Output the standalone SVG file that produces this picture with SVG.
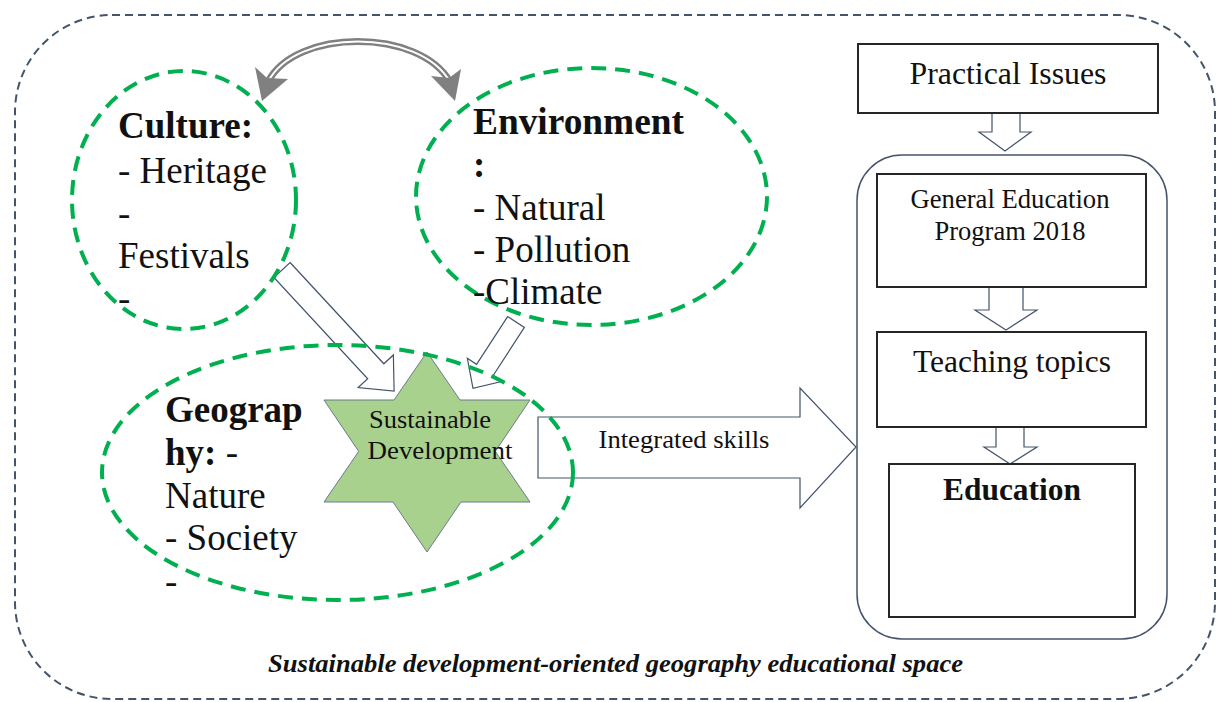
<svg xmlns="http://www.w3.org/2000/svg" width="1219" height="702" viewBox="0 0 1219 702">
  <style>
    .serif { font-family: "Liberation Serif", "Times New Roman", serif; fill: #111; }
    .b { font-weight: bold; }
    .big { font-size: 37px; }
    .zone { fill: none; stroke: #00b050; stroke-width: 4; stroke-dasharray: 15 9; }
    .blk { fill: #fff; stroke: #44546a; stroke-width: 1.2; stroke-linejoin: miter; }
    .box { fill: #fff; stroke: #262626; stroke-width: 2; }
  </style>

  <!-- outer space boundary -->
  <rect x="15" y="15" width="1200" height="684" rx="97" ry="97" fill="none" stroke="#44546a" stroke-width="2" stroke-dasharray="8 5"/>

  <g id="connectors">
    <!-- two-way link between culture and environment -->
    <path d="M268 82 C295 28, 420 28, 450 82" fill="none" stroke="#808080" stroke-width="7"/>
    <path d="M268 82 C295 28, 420 28, 450 82" fill="none" stroke="#fff" stroke-width="2"/>
    <polygon points="262,101 255,67 267,78 288,79" fill="#808080"/>
    <polygon points="455,101 461,69 449,78 431,76" fill="#808080"/>

    <!-- culture to sustainable development -->
    <path class="blk" transform="translate(282 270) rotate(47.2)" d="M0,-11 L138,-11 L138,-24 L165,0 L138,24 L138,11 L0,11 Z"/>
    <!-- environment to sustainable development -->
    <path class="blk" transform="translate(516 322) rotate(123)" d="M0,-10 L57,-10 L57,-21 L79,0 L57,21 L57,10 L0,10 Z"/>
    <!-- integrated skills -->
    <path class="blk" d="M538,417 L800,417 L800,388 L856,447 L800,508 L800,478 L538,478 Z"/>
    <!-- vertical flow on the right -->
    <path class="blk" d="M992,113 L1020,113 L1020,132 L1031,132 L1005,151 L979,132 L992,132 Z"/>
    <path class="blk" d="M989,287 L1023,287 L1023,310 L1037,310 L1006,330 L975,310 L989,310 Z"/>
    <path class="blk" d="M996,427 L1024,427 L1024,447 L1037,447 L1010,464 L984,447 L996,447 Z"/>
    <text class="serif" x="684" y="448" font-size="26" text-anchor="middle" textLength="171" lengthAdjust="spacingAndGlyphs">Integrated skills</text>
  </g>

  <g id="sustainable-development">
    <polygon points="427,352 460,400 530,400 495.3,451.4 530,502 461,502 427,552 393,502 324,502 358.7,451.4 324,400 394,400" fill="#a9d18e" stroke="#6b7b8c" stroke-width="1"/>
    <text class="serif" x="430" y="428" font-size="26" text-anchor="middle" textLength="122" lengthAdjust="spacingAndGlyphs">Sustainable</text>
    <text class="serif" x="440" y="459" font-size="26" text-anchor="middle" textLength="145" lengthAdjust="spacingAndGlyphs">Development</text>
  </g>

  <g id="culture">
    <ellipse class="zone" cx="184" cy="200" rx="112" ry="129"/>
    <text class="serif big b" x="118" y="138">Culture:</text>
    <text class="serif big" x="118" y="183">- Heritage</text>
    <text class="serif big" x="118" y="226">-</text>
    <text class="serif big" x="118" y="268">Festivals</text>
    <text class="serif big" x="118" y="311">-</text>
  </g>

  <g id="environment">
    <ellipse class="zone" cx="591.5" cy="196.5" rx="175.5" ry="128.5"/>
    <text class="serif big b" x="473" y="134" textLength="211" lengthAdjust="spacingAndGlyphs">Environment</text>
    <text class="serif big b" x="473" y="177">:</text>
    <text class="serif big" x="473" y="220">- Natural</text>
    <text class="serif big" x="473" y="262">- Pollution</text>
    <text class="serif big" x="473" y="304">-Climate</text>
  </g>

  <g id="geography">
    <ellipse class="zone" cx="337.5" cy="472.5" rx="235.5" ry="127.5"/>
    <text class="serif big b" x="165" y="422">Geograp</text>
    <text class="serif big" x="165" y="465"><tspan class="b">hy:</tspan> -</text>
    <text class="serif big" x="165" y="508">Nature</text>
    <text class="serif big" x="165" y="550">- Society</text>
    <text class="serif big" x="165" y="594">-</text>
  </g>

  <g id="practical-issues">
    <rect class="box" x="858" y="44" width="300" height="69"/>
    <text class="serif" x="1008" y="84" font-size="31" text-anchor="middle" textLength="197" lengthAdjust="spacingAndGlyphs">Practical Issues</text>
  </g>

  <g id="school-frame">
    <rect x="857" y="155" width="310" height="484" rx="45" ry="45" fill="none" stroke="#44546a" stroke-width="1.5"/>
  </g>

  <g id="general-education-program">
    <rect class="box" x="877" y="174" width="269" height="113"/>
    <text class="serif" x="1010" y="208" font-size="27" text-anchor="middle" textLength="199" lengthAdjust="spacingAndGlyphs">General Education</text>
    <text class="serif" x="1010" y="240" font-size="27" text-anchor="middle" textLength="151" lengthAdjust="spacingAndGlyphs">Program 2018</text>
  </g>

  <g id="teaching-topics">
    <rect class="box" x="877" y="332" width="269" height="95"/>
    <text class="serif" x="1012" y="372" font-size="31" text-anchor="middle" textLength="198" lengthAdjust="spacingAndGlyphs">Teaching topics</text>
  </g>

  <g id="education">
    <rect class="box" x="889" y="464" width="246" height="153"/>
    <text class="serif b" x="1012" y="500" font-size="31" text-anchor="middle" textLength="138" lengthAdjust="spacingAndGlyphs">Education</text>
  </g>

  <text class="serif b" x="615.5" y="672" font-size="25" font-style="italic" text-anchor="middle" textLength="695" lengthAdjust="spacingAndGlyphs">Sustainable development-oriented geography educational space</text>
</svg>
